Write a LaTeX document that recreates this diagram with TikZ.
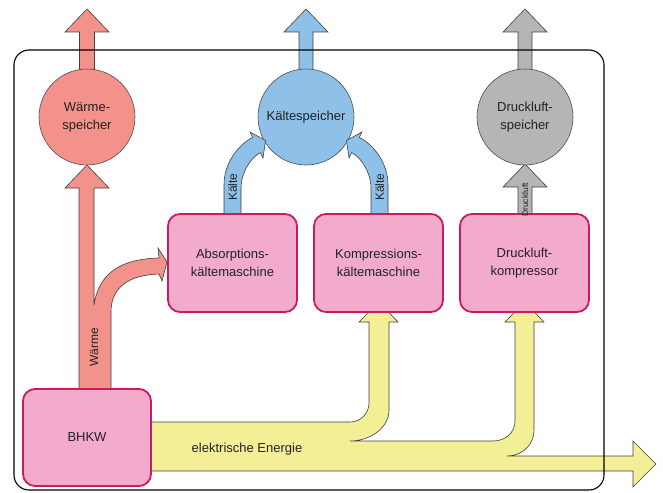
\documentclass[tikz,border=0pt]{standalone}
\usepackage{fontspec}
\setmainfont{Liberation Sans}
\definecolor{warm}{HTML}{F3928A}
\definecolor{cold}{HTML}{8EC0E8}
\definecolor{air}{HTML}{B5B5B8}
\definecolor{elec}{HTML}{F3EF97}
\definecolor{boxfill}{HTML}{F3ABCC}
\definecolor{boxline}{HTML}{C71B63}
\definecolor{txt}{HTML}{222222}
\begin{document}
\begin{tikzpicture}[x=1pt,y=-1pt,
  flow/.style={draw=black!75, line width=0.6pt, line join=miter},
  store/.style={circle, draw=black!70, line width=0.6pt, minimum size=96pt, inner sep=0pt,
    align=center, text=txt, font=\fontsize{13}{18}\selectfont},
  machine/.style={rectangle, rounded corners=12pt, draw=boxline, line width=1.8pt, fill=boxfill,
    minimum width=129pt, minimum height=98pt, inner sep=0pt, align=center, text=txt,
    font=\fontsize{13}{18}\selectfont},
  flowlabel/.style={rotate=90, text=txt, inner sep=0pt, font=\fontsize{12}{12}\selectfont},
  frame/.style={draw=black, line width=1.1pt, rounded corners=15pt}]
\useasboundingbox (0,0) rectangle (663,492);

% output arrows on top (behind the stores)
\fill[warm] (79.5,100) -- (79.5,32) -- (65,32) -- (87,9) -- (109,32) -- (94.5,32) -- (94.5,100) -- cycle;
\draw[flow] (79.5,100) -- (79.5,32) -- (65,32) -- (87,9) -- (109,32) -- (94.5,32) -- (94.5,100);
\fill[cold] (299,100) -- (299,32) -- (284,32) -- (306,9) -- (328,32) -- (313,32) -- (313,100) -- cycle;
\draw[flow] (299,100) -- (299,32) -- (284,32) -- (306,9) -- (328,32) -- (313,32) -- (313,100);
\fill[air] (518,100) -- (518,32) -- (503,32) -- (525,9) -- (547,32) -- (532,32) -- (532,100) -- cycle;
\draw[flow] (518,100) -- (518,32) -- (503,32) -- (525,9) -- (547,32) -- (532,32) -- (532,100);

% heat flow from BHKW
\draw[flow, fill=warm] (79,392) -- (79,188) -- (65,188) -- (87,165) -- (109,188) -- (94,188) -- (94,305)
  .. controls (99,272) and (122,259) .. (159,258) -- (158,248) -- (167,262) -- (162,281) -- (159,274)
  .. controls (128,275) and (111,288) .. (111,312) -- (111,392) -- cycle;

% electric energy flow
\draw[flow, fill=elec] (150,422) -- (350,422) .. controls (361,422) and (369,413) .. (369,403)
  -- (369,322) -- (359,322) -- (379,302) -- (398,322) -- (389,322) -- (389,410)
  .. controls (389,428) and (370,441) .. (350,441) -- (493,441)
  .. controls (505,441) and (515,433) .. (515,421) -- (515,322) -- (505,322) -- (524.5,302)
  -- (544,322) -- (534,322) -- (534,430) .. controls (534,445) and (522,456) .. (507,456)
  -- (633,456) -- (633,441) -- (656,464) -- (633,487) -- (633,471) -- (150,471) -- cycle;

% compressed air flow (behind store)
\draw[flow, fill=air] (518,218) -- (518,187) -- (503,187) -- (525,164) -- (547,187) -- (532,187) -- (532,218) -- cycle;

% stores
\node[store, fill=warm] (wsp) at (87,117) {Wärme-\\speicher};
\node[store, fill=cold] (ksp) at (306,117) {Kältespeicher};
\node[store, fill=air] (dsp) at (525,117) {Druckluft-\\speicher};

% cold flows
\draw[flow, fill=cold] (224,218) -- (224,185) .. controls (224,162) and (239.3,144.2) .. (252.7,137.4)
  -- (250,132) -- (265.5,140.5) -- (263,158) -- (260.3,152.6)
  .. controls (251.4,157.1) and (241,172) .. (241,188) -- (241,218) -- cycle;
\draw[flow, fill=cold] (388,218) -- (388,185) .. controls (388,162) and (372.7,144.2) .. (359.3,137.4)
  -- (362,132) -- (346.5,140.5) -- (349,158) -- (351.7,152.6)
  .. controls (360.6,157.1) and (371,172) .. (371,188) -- (371,218) -- cycle;

% machines
\node[machine] (abs) at (232.5,263) {Absorptions-\\kältemaschine};
\node[machine] (kom) at (378.5,263) {Kompressions-\\kältemaschine};
\node[machine] (dko) at (524.5,263) {Druckluft-\\kompressor};
\node[machine, minimum width=128pt, minimum height=97pt] (bhkw) at (87,437.5) {BHKW};

% flow labels
\node[flowlabel] (lw) at (94,347) {Wärme};
\node[flowlabel] (lk1) at (232.5,187) {Kälte};
\node[flowlabel] (lk2) at (379.5,187) {Kälte};
\node[flowlabel, font=\fontsize{8.5}{8.5}\selectfont] (ld) at (525,200) {Druckluft};
\node[text=txt, inner sep=0pt, font=\fontsize{13}{13}\selectfont] (le) at (247,449) {elektrische Energie};

% system frame
\draw[frame] (14,50) rectangle (604,490);
\end{tikzpicture}
\end{document}
